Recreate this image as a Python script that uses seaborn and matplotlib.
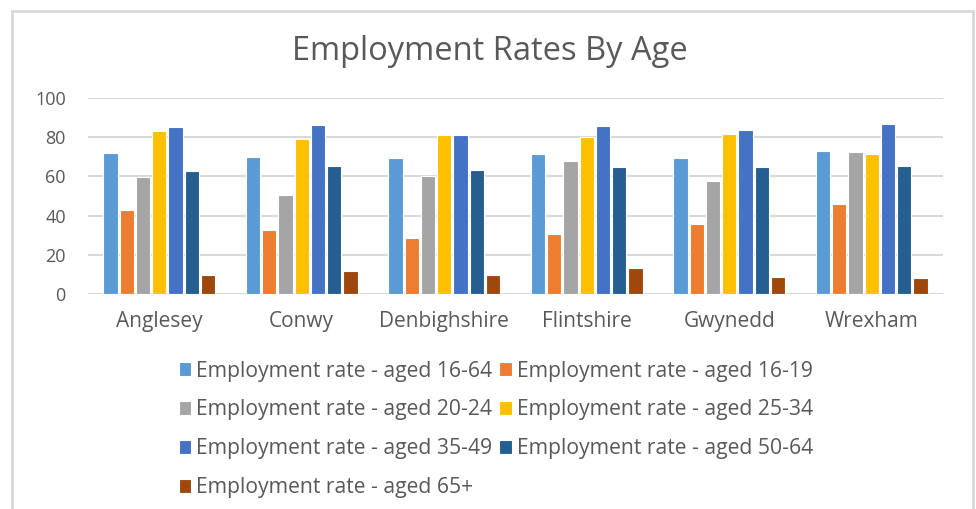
#! /usr/bin/env python3

import pandas as pd
import matplotlib.pyplot as plt
from matplotlib.patches import Rectangle
import seaborn as sns

areas = ["Anglesey", "Conwy", "Denbighshire", "Flintshire", "Gwynedd", "Wrexham"]
age_groups = ["16-64", "16-19", "20-24", "25-34", "35-49", "50-64", "65+"]

# one list per age group, in the order of areas
rate_16_64 = [72.1, 69.7, 69.2, 71.6, 69.2, 73.1]
rate_16_19 = [43.0, 32.7, 28.6, 30.8, 35.5, 45.7]
rate_20_24 = [59.7, 50.3, 60.0, 68.0, 57.8, 72.6]
rate_25_34 = [83.0, 78.9, 81.3, 80.1, 81.8, 71.6]
rate_35_49 = [85.4, 86.1, 81.3, 85.9, 83.5, 86.9]
rate_50_64 = [62.9, 65.3, 63.4, 64.6, 64.6, 65.1]
rate_65_plus = [9.9, 11.9, 9.9, 13.1, 8.5, 8.0]

colors = ["#5B9BD5", "#ED7D31", "#A5A5A5", "#FFC000", "#4472C4", "#255E91", "#9E480E"]

series = [rate_16_64, rate_16_19, rate_20_24, rate_25_34, rate_35_49, rate_50_64, rate_65_plus]
rows = []
for age, values in zip(age_groups, series):
    for area, v in zip(areas, values):
        rows.append({"area": area, "series": f"Employment rate - aged {age}", "rate": v})
df = pd.DataFrame(rows)

sns.set_style("white")
plt.rcParams['font.family'] = ['Open Sans', 'DejaVu Sans']
text_color = "#595959"
grid_color = "#D9D9D9"

fig = plt.figure(figsize=(9.76, 5.09), dpi=100)
ax = fig.add_axes([88 / 976, 1 - 294 / 509, (943 - 88) / 976, (294 - 98) / 509])

plot = sns.barplot(data=df, x="area", y="rate", hue="series", order=areas,
                   palette=colors, saturation=1, width=0.8, gap=0.12,
                   edgecolor="white", linewidth=0.8, ax=ax, legend=True)

ax.set_ylim(0, 100)
ax.set_yticks(range(0, 101, 20))
ax.yaxis.grid(True, color=grid_color, linewidth=1.5)
ax.set_axisbelow(True)
for spine in ax.spines.values():
    spine.set_visible(False)
ax.tick_params(axis="y", length=0, pad=16, labelsize=13, labelcolor=text_color)
ax.tick_params(axis="x", length=0, pad=12, labelsize=15, labelcolor=text_color)
ax.set(xlabel=None, ylabel=None)

# matplotlib fills legend columns first, reorder so it reads across rows
handles, labels = ax.get_legend_handles_labels()
ax.get_legend().remove()
order = [0, 2, 4, 6, 1, 3, 5]
fig.legend([handles[i] for i in order], [labels[i] for i in order], ncol=2,
           loc="upper left", bbox_to_anchor=(168 / 976, 1 - 350 / 509), frameon=False,
           fontsize=15.2, labelcolor=text_color, handlelength=0.6, handleheight=0.6,
           handletextpad=0.25, columnspacing=0.3, labelspacing=0.85, borderpad=0)

fig.text(490 / 976, 1 - 51 / 509, "Employment Rates By Age", ha="center", va="center",
         fontsize=23.5, color=text_color)

# chart frame
fig.patches.append(Rectangle((12 / 976, -0.05), (973 - 12) / 976, 1.05 - 11 / 509,
                             transform=fig.transFigure, fill=False,
                             edgecolor=grid_color, linewidth=2))

plt.savefig("out.png", dpi=100)
plt.close()
